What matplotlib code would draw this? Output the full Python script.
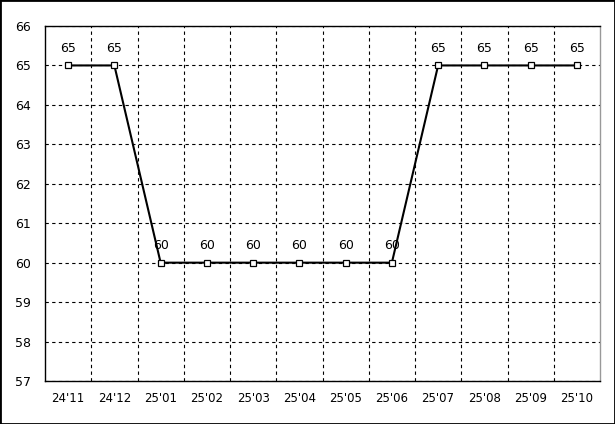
import matplotlib
matplotlib.use("Agg")
import matplotlib.pyplot as plt
from matplotlib.patches import Rectangle

categories = ["24'11", "24'12", "25'01", "25'02", "25'03", "25'04", "25'05", "25'06", "25'07", "25'08", "25'09", "25'10"]
values = [65, 65, 60, 60, 60, 60, 60, 60, 65, 65, 65, 65]
yticks = [57, 58, 59, 60, 61, 62, 63, 64, 65, 66]

fig = plt.figure(figsize=(6.15, 4.24), dpi=100)
fig.patches.append(Rectangle((0, 0), 1, 1, transform=fig.transFigure, fill=False,
                             edgecolor='black', linewidth=2))
ax = fig.add_axes([45/615, 1-381/424, 555/615, 355/424])

x = list(range(len(categories)))
ax.plot(x, values, color='black', linewidth=1.5, marker='s', markersize=4.5,
        markerfacecolor='white', markeredgecolor='black', markeredgewidth=0.9, zorder=3)
for xi, v in zip(x, values):
    ax.annotate(str(v), (xi, v), xytext=(0, 7.5), textcoords='offset points',
                ha='center', va='bottom', fontsize=9, family='DejaVu Sans')

ax.set_xlim(-0.5, len(categories) - 0.5)
ax.set_ylim(57, 66)
ax.set_yticks(yticks)
ax.set_xticks(x)
ax.set_xticklabels(categories)
ax.set_xticks([i + 0.5 for i in range(len(categories) - 1)], minor=True)
ax.tick_params(axis='both', which='both', length=0, labelsize=8.5)
ax.tick_params(axis='y', pad=10, labelsize=9)
ax.tick_params(axis='x', pad=8)
ax.grid(False)
ax.grid(True, which='minor', axis='x', color='black', linestyle=(0, (3, 3)), linewidth=0.8)
ax.grid(True, which='major', axis='y', color='black', linestyle=(0, (3, 3)), linewidth=0.8)
for s in ['left', 'bottom', 'top']:
    ax.spines[s].set_color('black')
    ax.spines[s].set_linewidth(1)
ax.spines['right'].set_color('#999999')
ax.spines['right'].set_linewidth(1)

fig.savefig("out.png", dpi=100)
